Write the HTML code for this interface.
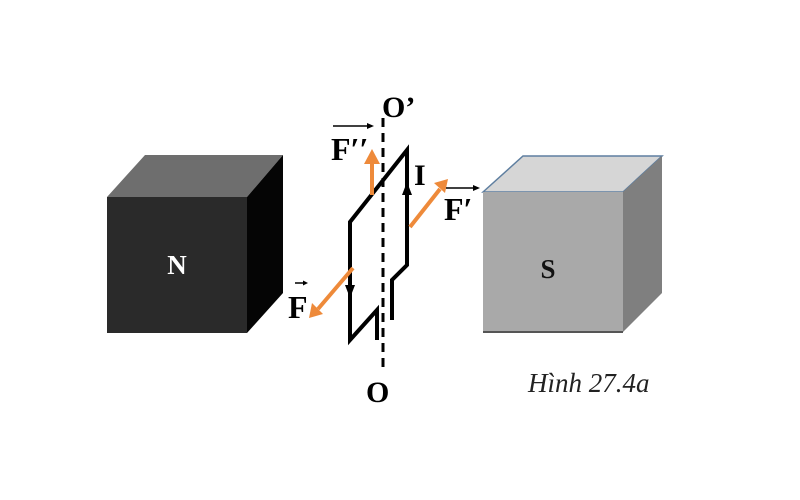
<!DOCTYPE html>
<html><head><style>
body{margin:0;background:#fff;}
svg{display:block;}
text{font-family:"Liberation Serif",serif;font-weight:bold;}
</style></head><body>
<svg width="800" height="500" viewBox="0 0 800 500">
<!-- N cube -->
<polygon points="107,197 145,155 283,155 247,197" fill="#6e6e6e"/>
<polygon points="247,197 283,155 283,293 247,333" fill="#050505"/>
<rect x="107" y="197" width="140" height="136" fill="#2a2a2a"/>
<text x="177" y="274" font-size="27" fill="#fff" text-anchor="middle">N</text>
<!-- S cube -->
<polygon points="483,192 523,156 662,156 623,192" fill="#d6d6d6" stroke="#5f7fa0" stroke-width="1.5"/>
<polygon points="623,192 662,156 662,293 623,332" fill="#7f7f7f"/>
<rect x="483" y="192" width="140" height="140" fill="#a9a9a9"/>
<line x1="483" y1="332" x2="623" y2="332" stroke="#555" stroke-width="2"/>
<text x="548" y="278" font-size="27" fill="#111" text-anchor="middle">S</text>
<!-- axis -->
<line x1="383" y1="118" x2="383" y2="373" stroke="#000" stroke-width="3" stroke-dasharray="9,6"/>
<!-- loop -->
<polyline points="392,320 392,280 407,265 407,150 350,222 350,340 377,310 377,340" fill="none" stroke="#000" stroke-width="4" stroke-linejoin="miter"/>
<polygon points="402,195 407,182 412,195" fill="#000"/>
<polygon points="345,285 350,298 355,285" fill="#000"/>
<!-- orange arrows -->
<g stroke="#ee8a3a" stroke-width="4" fill="#ee8a3a">
<line x1="372" y1="195" x2="372" y2="162"/>
<line x1="410" y1="227" x2="440" y2="189"/>
<line x1="353" y1="268" x2="318" y2="309"/>
</g>
<polygon points="364,164 372,149 380,164" fill="#ee8a3a"/>
<polygon points="434,183 448,179 445,193" fill="#ee8a3a"/>
<polygon points="312,303 309,318 323,314" fill="#ee8a3a"/>
<!-- labels -->
<text x="382" y="117" font-size="30">O’</text>
<text x="331" y="160" font-size="32">F′′</text>
<line x1="333" y1="126" x2="368" y2="126" stroke="#000" stroke-width="1.5"/>
<polygon points="367,123 374,126 367,129"/>
<text x="414" y="185" font-size="30">I</text>
<text x="444" y="220" font-size="32">F′</text>
<line x1="446" y1="188" x2="474" y2="188" stroke="#000" stroke-width="1.5"/>
<polygon points="473,185 480,188 473,191"/>
<text x="288" y="318" font-size="32">F</text>
<line x1="295" y1="283" x2="304" y2="283" stroke="#000" stroke-width="1.5"/>
<polygon points="303,280.5 308,283 303,285.5"/>
<text x="366" y="402" font-size="30">O</text>
<text x="528" y="392" style="font-size:27px;font-weight:normal;font-style:italic" fill="#222">Hình 27.4a</text>
</svg>
</body></html>
